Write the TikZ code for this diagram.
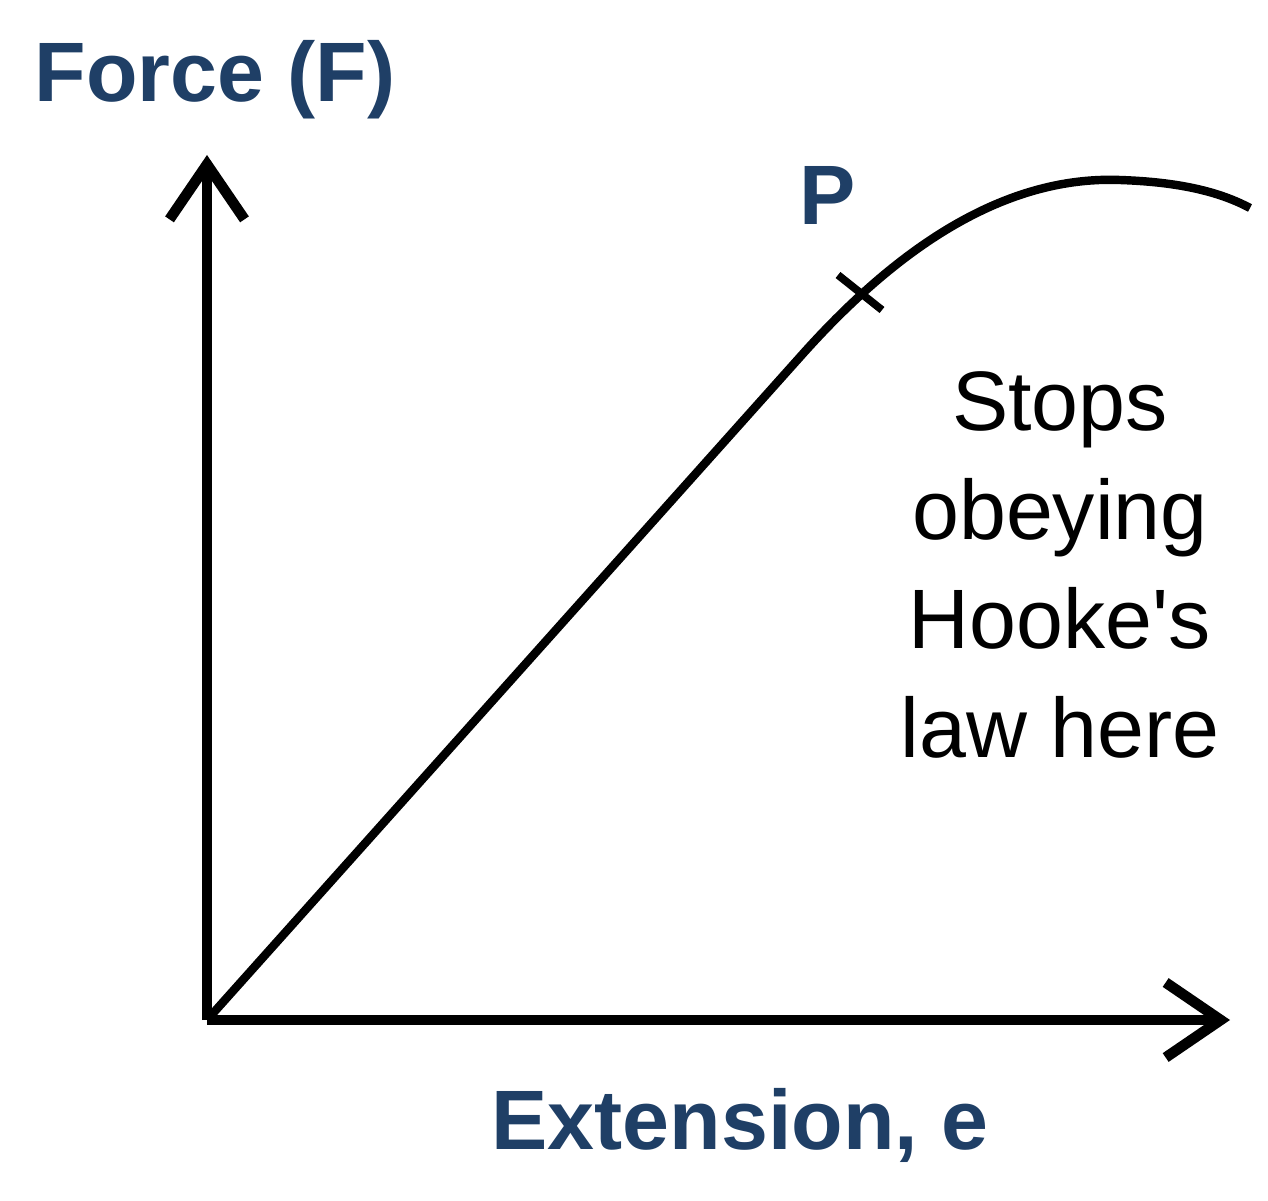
\documentclass[tikz,border=0pt]{standalone}
\usepackage{fontspec}
\setmainfont{Liberation Sans}
\usetikzlibrary{arrows.meta}
\definecolor{lbl}{HTML}{1F3F66}
\begin{document}
\begin{tikzpicture}
\useasboundingbox (0,0) rectangle (12.68,12);
\tikzset{axis/.style={line width=2.6pt,-{Straight Barb[length=5.5mm,width=7.5mm,line width=3pt]}},
curve/.style={line width=2.4pt},
lab/.style={font=\fontsize{24}{28}\selectfont\bfseries,text=lbl},
note/.style={font=\fontsize{24}{31}\selectfont,align=center}}
\coordinate (O) at (2.07,1.80);
\coordinate (Y) at (2.07,10.45);
\coordinate (X) at (12.3,1.80);
\coordinate (E) at (12.5,9.92);
\draw[axis] (O) -- (Y);
\draw[axis] (O) -- (X);
\draw[curve] (O) -- (8.0,8.43) .. controls (8.8,9.33) and (9.9,10.25) .. (11.2,10.2) .. controls (11.8,10.18) and (12.2,10.08) .. (E);
\draw[line width=2.2pt] (8.38,9.25) -- (8.82,8.9);
\node[lab] (f) at (2.15,11.2) {Force (F)};
\node[lab] (p) at (8.28,10.05) {P};
\node[lab] (e) at (7.4,0.75) {Extension, e};
\node[note] (n) at (10.6,6.35) {Stops\\obeying\\Hooke\textquotesingle s\\law here};
\end{tikzpicture}
\end{document}
